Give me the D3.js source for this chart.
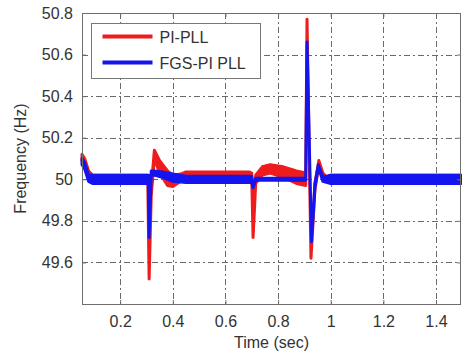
<!DOCTYPE html>
<html>
<head>
<meta charset="utf-8">
<script src="https://d3js.org/d3.v7.min.js"></script>
<style>
  body { margin: 0; background: #fff; }
  svg { display: block; font-family: "Liberation Sans", Arial, sans-serif; }
  .grid line { stroke: #6a6a6a; stroke-width: 1px; stroke-dasharray: 6 3 2 3; }
</style>
</head>
<body>
<script>
// tick labels
var xTicks = [0.2, 0.4, 0.6, 0.8, 1.0, 1.2, 1.4];
var yTicks = [49.6, 49.8, 50, 50.2, 50.4, 50.6, 50.8];

// PI-PLL envelope (time, lower, upper)
var piTime  = [0.055, 0.065, 0.08, 0.095, 0.30, 0.305, 0.31, 0.318, 0.33, 0.35, 0.38, 0.40, 0.43, 0.45, 0.69, 0.70, 0.705, 0.715, 0.74, 0.77, 0.82, 0.87, 0.905, 0.91, 0.925, 0.94, 0.955, 0.97, 0.985, 1.0, 1.495];
var piLow   = [50.09, 50.07, 50.01, 49.99, 49.99, 49.99, 49.52, 49.92, 50.10, 50.03, 49.97, 49.965, 49.99, 50.0, 50.0, 50.0, 49.72, 49.98, 50.02, 50.03, 50.01, 49.98, 49.97, 50.77, 49.62, 49.95, 50.07, 50.0, 49.99, 49.99, 49.99];
var piHigh  = [50.12, 50.10, 50.04, 50.02, 50.02, 50.02, 49.52, 49.96, 50.14, 50.09, 50.04, 50.02, 50.025, 50.035, 50.035, 50.03, 49.72, 50.02, 50.06, 50.07, 50.06, 50.04, 50.03, 50.77, 49.62, 49.98, 50.09, 50.03, 50.01, 50.02, 50.02];

// FGS-PI PLL envelope
var fgsTime = [0.055, 0.065, 0.08, 0.095, 0.30, 0.307, 0.31, 0.318, 0.33, 0.36, 0.40, 0.45, 0.70, 0.705, 0.715, 0.905, 0.91, 0.927, 0.94, 0.953, 0.97, 1.0, 1.495];
var fgsLow  = [50.07, 50.05, 49.99, 49.98, 49.98, 49.98, 49.72, 50.02, 50.02, 50.01, 49.99, 49.985, 49.985, 49.96, 49.995, 49.995, 50.66, 49.70, 49.96, 50.06, 49.99, 49.98, 49.98];
var fgsHigh = [50.10, 50.08, 50.02, 50.02, 50.02, 50.02, 49.72, 50.04, 50.04, 50.035, 50.025, 50.015, 50.015, 49.96, 50.005, 50.005, 50.66, 49.70, 49.98, 50.07, 50.01, 50.02, 50.02];

var seriesNames = ["PI-PLL", "FGS-PI PLL"];
var seriesColors = ["#ee1c1c", "#1414ee"];

var W = 462, H = 356;
var plot = {left: 82, right: 461, top: 13, bottom: 304};

var svg = d3.select("body").append("svg")
    .attr("width", W).attr("height", H);

var x = d3.scaleLinear().domain([0.055, 1.495]).range([plot.left, plot.right]);
var y = d3.scaleLinear().domain([49.4, 50.8]).range([plot.bottom, plot.top]);

// grid (dash-dot), styled by css
var grid = svg.append("g").attr("class", "grid");
xTicks.forEach(function(t) {
    var px = Math.round(x(t)) + 0.5;
    grid.append("line")
        .attr("x1", px).attr("x2", px)
        .attr("y1", plot.top).attr("y2", plot.bottom);
});
yTicks.slice(0, -1).forEach(function(v) {
    var py = Math.round(y(v)) + 0.5;
    grid.append("line")
        .attr("x1", plot.left).attr("x2", plot.right)
        .attr("y1", py).attr("y2", py);
});

// series bands
function band(t, lo, hi) {
    return t.map(function(v, i) { return {t: v, lo: lo[i], hi: hi[i]}; });
}
var area = d3.area()
    .x(d => x(d.t)).y0(d => y(d.lo)).y1(d => y(d.hi));

var series = [band(piTime, piLow, piHigh), band(fgsTime, fgsLow, fgsHigh)];
series.forEach(function(s, i) {
    svg.append("path")
        .datum(s)
        .attr("d", area)
        .attr("fill", seriesColors[i])
        .attr("stroke", seriesColors[i])
        .attr("stroke-width", 3)
        .attr("stroke-linejoin", "round");
});

// axes box
svg.append("rect")
    .attr("x", plot.left + 0.5).attr("y", plot.top + 0.5)
    .attr("width", plot.right - plot.left - 1).attr("height", plot.bottom - plot.top)
    .attr("fill", "none").attr("stroke", "#6e6e6e").attr("stroke-width", 1);

var xAxis = d3.axisBottom(x).tickValues(xTicks).tickSizeInner(-4).tickSizeOuter(0)
    .tickPadding(12).tickFormat(d3.format("~g"));
var gx = svg.append("g").attr("transform", "translate(0," + plot.bottom + ")").call(xAxis);
var xTop = d3.axisTop(x).tickValues(xTicks).tickSizeInner(-4).tickSizeOuter(0).tickFormat("");
var gxt = svg.append("g").attr("transform", "translate(0," + plot.top + ")").call(xTop);

var yAxis = d3.axisLeft(y).tickValues(yTicks).tickSizeInner(-4).tickSizeOuter(0)
    .tickPadding(9).tickFormat(d3.format("~g"));
var gy = svg.append("g").attr("transform", "translate(" + plot.left + ",0)").call(yAxis);
var yRight = d3.axisRight(y).tickValues(yTicks).tickSizeInner(-4).tickSizeOuter(0).tickFormat("");
var gyr = svg.append("g").attr("transform", "translate(" + plot.right + ",0)").call(yRight);

[gx, gxt, gy, gyr].forEach(function(g) {
    g.select(".domain").remove();
    g.selectAll(".tick line").attr("stroke", "#6e6e6e");
    g.selectAll("text").attr("fill", "#333").style("font-size", "16px")
        .style("font-family", "'Liberation Sans', Arial, sans-serif");
});

// axis titles
svg.append("text")
    .attr("x", (plot.left + plot.right) / 2).attr("y", 348)
    .attr("text-anchor", "middle").attr("fill", "#333")
    .style("font-size", "16px").text("Time (sec)");
svg.append("text")
    .attr("transform", "translate(26," + (plot.top + plot.bottom) / 2 + ") rotate(-90)")
    .attr("text-anchor", "middle").attr("fill", "#333")
    .style("font-size", "16px").text("Frequency (Hz)");

// legend
var lg = svg.append("g").attr("transform", "translate(91.5,23.5)");
lg.append("rect").attr("width", 169).attr("height", 55)
    .attr("fill", "#fff").attr("stroke", "#777").attr("stroke-width", 1);
seriesNames.forEach(function(name, i) {
    var yy = 13 + i * 26;
    lg.append("line").attr("x1", 11).attr("x2", 61).attr("y1", yy).attr("y2", yy)
        .attr("stroke", seriesColors[i]).attr("stroke-width", 4);
    lg.append("text").attr("x", 68).attr("y", yy + 6)
        .attr("fill", "#333").style("font-size", "16px").text(name);
});
</script>
</body>
</html>
